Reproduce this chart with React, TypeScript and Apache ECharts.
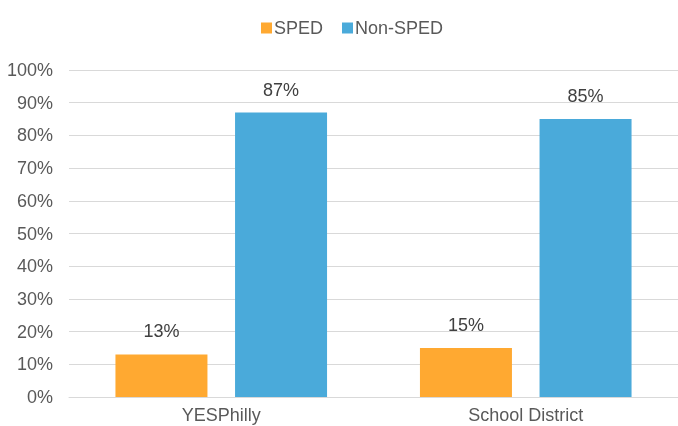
import React, { useEffect, useRef } from "react";
import * as echarts from "echarts";

const categories = ["YESPhilly", "School District"];
const spedValues = [13, 15];
const nonSpedValues = [87, 85];
const seriesNames = ["SPED", "Non-SPED"];

export default function App() {
  const ref = useRef<HTMLDivElement>(null);
  useEffect(() => {
    const chart = echarts.init(ref.current!, null, { renderer: "svg" });
    const font = "Liberation Sans, Arial, sans-serif";
    chart.setOption({
      animation: false,
      textStyle: { fontFamily: font },
      legend: {
        top: 14,
        left: 256,
        itemWidth: 11,
        itemHeight: 11,
        itemGap: 19,
        icon: "rect",
        textStyle: { fontSize: 18, color: "#595959", fontFamily: font, padding: [0, 0, 0, -3] },
        data: seriesNames,
      },
      grid: { left: 69, top: 70, right: -4, bottom: 29 },
      xAxis: {
        type: "category",
        data: categories,
        axisTick: { show: false },
        axisLine: { lineStyle: { color: "#d9d9d9", width: 1 } },
        axisLabel: { fontSize: 18, color: "#595959", margin: 9, fontFamily: font },
      },
      yAxis: {
        type: "value",
        min: 0,
        max: 100,
        interval: 10,
        axisLabel: { formatter: "{value}%", fontSize: 18, color: "#595959", margin: 16, fontFamily: font },
        splitLine: { lineStyle: { color: "#d9d9d9", width: 1 } },
        axisLine: { show: false },
        axisTick: { show: false },
      },
      series: [
        {
          name: seriesNames[0],
          type: "bar",
          data: spedValues,
          barWidth: 92,
          barGap: "30%",
          itemStyle: { color: "#FFA931" },
          label: { show: true, position: "top", distance: 14, formatter: "{c}%", fontSize: 18, color: "#404040", fontFamily: font },
        },
        {
          name: seriesNames[1],
          type: "bar",
          data: nonSpedValues,
          barWidth: 92,
          barGap: "30%",
          itemStyle: { color: "#4AAADA" },
          label: { show: true, position: "top", distance: 14, formatter: "{c}%", fontSize: 18, color: "#404040", fontFamily: font },
        },
      ],
    });
    return () => chart.dispose();
  }, []);
  return <div ref={ref} style={{ position: "fixed", left: 0, top: 0, width: 678, height: 426 }} />;
}
